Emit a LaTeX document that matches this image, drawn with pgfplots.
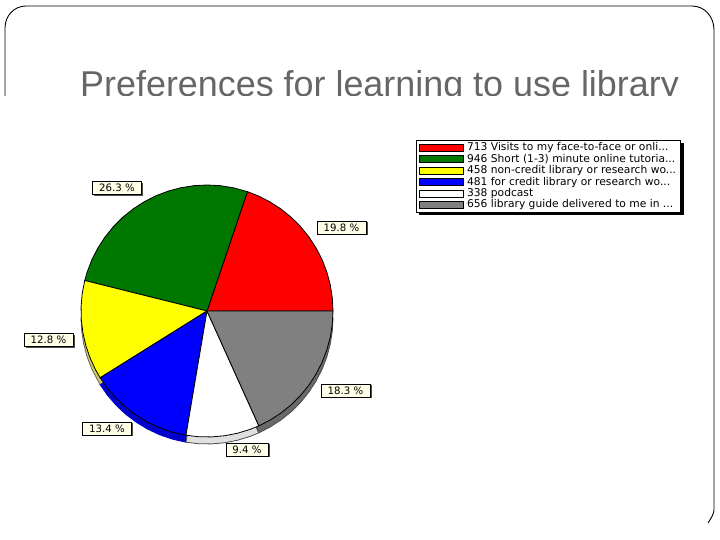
\documentclass[border=0pt]{standalone}
\usepackage{fontspec}
\setmainfont{Liberation Sans}
\newfontfamily\chartfont{DejaVu Sans}
\usepackage{pgfplots}
\pgfplotsset{compat=1.18}
\usetikzlibrary{shadows}

\definecolor{titlegray}{HTML}{666666}
\definecolor{labelfill}{HTML}{FFFFE8}
\definecolor{pieRed}{RGB}{255,0,0}
\definecolor{pieGreen}{RGB}{0,120,0}
\definecolor{pieYellow}{RGB}{255,255,0}
\definecolor{pieBlue}{RGB}{0,0,255}
\definecolor{pieGray}{RGB}{128,128,128}
\definecolor{rimYellow}{RGB}{205,205,90}
\definecolor{rimBlue}{RGB}{0,0,205}
\definecolor{rimWhite}{RGB}{224,224,224}
\definecolor{rimGray}{RGB}{105,105,105}

\tikzset{
  pct/.style={draw=black, line width=0.7pt, fill=labelfill, font=\chartfont\fontsize{10.2}{10}\selectfont,
    minimum width=49pt, minimum height=13pt, inner sep=0pt,
    general shadow={fill=black!70, shadow xshift=1.5pt, shadow yshift=-1.5pt}},
}

\begin{document}
\begin{tikzpicture}[x=1pt,y=1pt]
\path[use as bounding box] (0,0) rectangle (720,540);

% slide frame, cut off under the title like the reference
\draw[line width=0.9pt] (5,444) -- (5,512) .. controls (5,524) and (14,534) .. (26,534) -- (692,534)
  .. controls (704,534) and (714,524) .. (714,510) -- (714,30) .. controls (714,26) and (711,22) .. (708,17);

\begin{scope}
  \clip (0,444) rectangle (720,540);
  \node[anchor=base west, inner sep=0pt, text=titlegray, font=\fontsize{35.9}{36}\selectfont] at (80,443.5)
    {Preferences for learning to use library};
\end{scope}

% legend shadow
\fill[black] (419,325) rectangle (683.5,397);

\begin{axis}[
  scale only axis, width=720pt, height=540pt,
  xmin=-207, xmax=513, ymin=-229, ymax=311,
  hide axis, clip=false,
  every axis plot/.append style={line width=0.8pt, line join=round},
  legend style={
    at={(416/720,400/540)}, anchor=north west,
    draw=black, line width=0.7pt, fill=white,
    font=\chartfont\fontsize{10.7}{11.9}\selectfont,
    inner xsep=3pt, inner ysep=1.5pt,
    row sep=-0.6pt,
    nodes={inner sep=1pt, text height=8pt, text depth=2pt},
  },
  legend cell align=left,
  legend image code/.code={
    \draw[#1, line width=0.7pt, draw=black] (0pt,-3.5pt) rectangle (44pt,3.5pt);
    \path (46pt,0pt);
  },
]

% side of the pie, seen under the lower half
\addplot[forget plot, data cs=polar, yshift=-7pt, draw=black!60, fill=rimYellow] coordinates {
  (0,0) (180,126) (186,126) (192,126) (198,126) (204,126) (212,126) (0,0)};
\addplot[forget plot, data cs=polar, yshift=-7pt, draw=rimBlue, fill=rimBlue] coordinates {
  (0,0) (212,126) (218,126) (224,126) (230,126) (236,126) (242,126) (248,126) (254,126) (260.4,126) (0,0)};
\addplot[forget plot, data cs=polar, yshift=-7pt, draw=black!70, fill=rimWhite] coordinates {
  (0,0) (260.4,126) (266,126) (272,126) (278,126) (284,126) (290,126) (294.3,126) (0,0)};
\addplot[forget plot, data cs=polar, yshift=-7pt, draw=black!70, fill=rimGray] coordinates {
  (0,0) (294.3,126) (300,126) (306,126) (312,126) (318,126) (324,126) (330,126) (336,126) (342,126) (348,126) (354,126) (360,126) (0,0)};

% top of the pie, angle and radius
\addplot[data cs=polar, draw=black, fill=pieRed] coordinates {
  (0,0) (0,126) (6,126) (12,126) (18,126) (24,126) (30,126) (36,126) (42,126) (48,126) (54,126) (60,126) (66,126) (71.3,126) (0,0)};
\addlegendentry{713 Visits to my face-to-face or onli...}
\addplot[data cs=polar, draw=black, fill=pieGreen] coordinates {
  (0,0) (71.3,126) (78,126) (84,126) (90,126) (96,126) (102,126) (108,126) (114,126) (120,126) (126,126) (132,126) (138,126) (144,126) (150,126) (156,126) (162,126) (166,126) (0,0)};
\addlegendentry{946 Short (1-3) minute online tutoria...}
\addplot[data cs=polar, draw=black, fill=pieYellow] coordinates {
  (0,0) (166,126) (172,126) (178,126) (184,126) (190,126) (196,126) (202,126) (208,126) (212,126) (0,0)};
\addlegendentry{458 non-credit library or research wo...}
\addplot[data cs=polar, draw=black, fill=pieBlue] coordinates {
  (0,0) (212,126) (218,126) (224,126) (230,126) (236,126) (242,126) (248,126) (254,126) (260.4,126) (0,0)};
\addlegendentry{481 for credit library or research wo...}
\addplot[data cs=polar, draw=black, fill=white] coordinates {
  (0,0) (260.4,126) (266,126) (272,126) (278,126) (284,126) (290,126) (294.3,126) (0,0)};
\addlegendentry{338 podcast}
\addplot[data cs=polar, draw=black, fill=pieGray] coordinates {
  (0,0) (294.3,126) (300,126) (306,126) (312,126) (318,126) (324,126) (330,126) (336,126) (342,126) (348,126) (354,126) (360,126) (0,0)};
\addlegendentry{656 library guide delivered to me in ...}

\node[pct] at (axis cs:134.5,83.5) {19.8 \%};
\node[pct] at (axis cs:-90,123) {26.3 \%};
\node[pct] at (axis cs:-158.5,-29) {12.8 \%};
\node[pct] at (axis cs:-100,-117.5) {13.4 \%};
\node[pct, minimum width=42pt] at (axis cs:40,-138.5) {9.4 \%};
\node[pct] at (axis cs:138.5,-79.5) {18.3 \%};
\end{axis}
\end{tikzpicture}
\end{document}
